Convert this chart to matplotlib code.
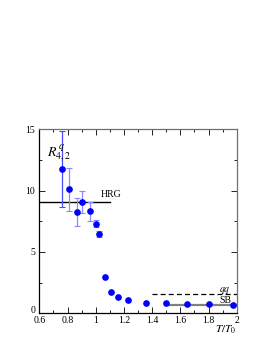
#!/usr/bin/env python3
"""R^q_{4,2} vs T/T0 with HRG and SB limits."""

import matplotlib
matplotlib.use("Agg")
import matplotlib.pyplot as plt
import matplotlib.transforms as mtransforms
from matplotlib.ticker import MultipleLocator

plt.rcParams.update({
    "font.family": "Liberation Serif",
    "mathtext.fontset": "stix",
    "font.size": 7,
})

# Lattice points
t_ratio = [0.763, 0.812, 0.864, 0.902, 0.961, 1.001, 1.022,
           1.065, 1.109, 1.157, 1.23, 1.357, 1.496, 1.645, 1.805, 1.977]
r42 = [11.8, 10.1, 8.28, 9.05, 8.32, 7.3, 6.46,
       2.93, 1.74, 1.30, 1.06, 0.86, 0.80, 0.73, 0.73, 0.70]
r42_err = [3.1, 1.77, 1.15, 0.88, 0.78, 0.3, 0.25,
           0, 0, 0, 0, 0, 0, 0, 0, 0]

# Limits
hrg_value = 9.05
hrg_range = [0.6, 1.1]
qq_value = 1.55
qq_range = [1.397, 2.0]
sb_value = 0.65
sb_range = [1.494, 2.0]

fig = plt.figure(figsize=(2.73, 3.53), dpi=100)
ax = fig.add_axes([39.3 / 273, 1 - 313.3 / 353, 197.4 / 273, 184 / 353])

ax.plot(hrg_range, [hrg_value] * 2, color="black", lw=1.0)
ax.plot(qq_range, [qq_value] * 2, color="black", lw=0.9, ls=(0, (4, 2.5)))
ax.plot(sb_range, [sb_value] * 2, color="#808080", lw=1.6)

# first error bar darker than the rest
ax.errorbar(t_ratio[:1], r42[:1], yerr=r42_err[:1], fmt="none",
            ecolor="#4a4aff", elinewidth=0.9, capsize=2.0, capthick=0.8)
ax.errorbar(t_ratio[1:7], r42[1:7], yerr=r42_err[1:7], fmt="none",
            ecolor="#8a8aff", elinewidth=0.9, capsize=2.0, capthick=0.8)
ax.plot(t_ratio, r42, "o", color="#0000ff", ms=3.8, mec="#0000ff", zorder=5)

ax.text(1.035, 9.45, "HRG", fontsize=7)
ax.text(1.96, 1.75, r"$qq$", fontsize=7, ha="right")
ax.text(1.96, 0.85, "SB", fontsize=7, ha="right")
ax.text(0.655, 13.9, r"$R^{\,q}_{4,2}$", fontsize=10, va="top")

ax.set_xlim(0.6, 2.0)
ax.set_ylim(0, 15)
ax.xaxis.set_minor_locator(MultipleLocator(0.1))
ax.yaxis.set_minor_locator(MultipleLocator(2.5))
ax.set_xticks([0.6, 0.8, 1.0, 1.2, 1.4, 1.6, 1.8, 2.0])
ax.set_xticklabels(["0.6", "0.8", "1", "1.2", "1.4", "1.6", "1.8", "2"])
# the y "0" is drawn by hand below, lifted so it clears the "0.6"
ax.set_yticks([0, 5, 10, 15])
ax.set_yticklabels(["", "5", "10", "15"])
ax.tick_params(which="both", direction="in", top=True, right=True,
               labelsize=7, width=0.6)
ax.tick_params(axis="x", pad=2)
ax.tick_params(axis="y", pad=3)
ax.tick_params(which="major", length=4)
ax.tick_params(which="minor", length=2)

zero_offset = mtransforms.ScaledTranslation(-3 / 72, 2 / 72, fig.dpi_scale_trans)
ax.text(0, 0, "0", fontsize=7, ha="right", va="center",
        transform=ax.transAxes + zero_offset)

for side in ["left", "bottom"]:
    ax.spines[side].set_color("black")
    ax.spines[side].set_linewidth(0.9)
for side in ["top", "right"]:
    ax.spines[side].set_color("#707070")
    ax.spines[side].set_linewidth(0.9)

fig.text(236 / 273, 1 - 333 / 353, r"$T/T_0$", fontsize=8, ha="right")

fig.savefig("out.png", dpi=100)
